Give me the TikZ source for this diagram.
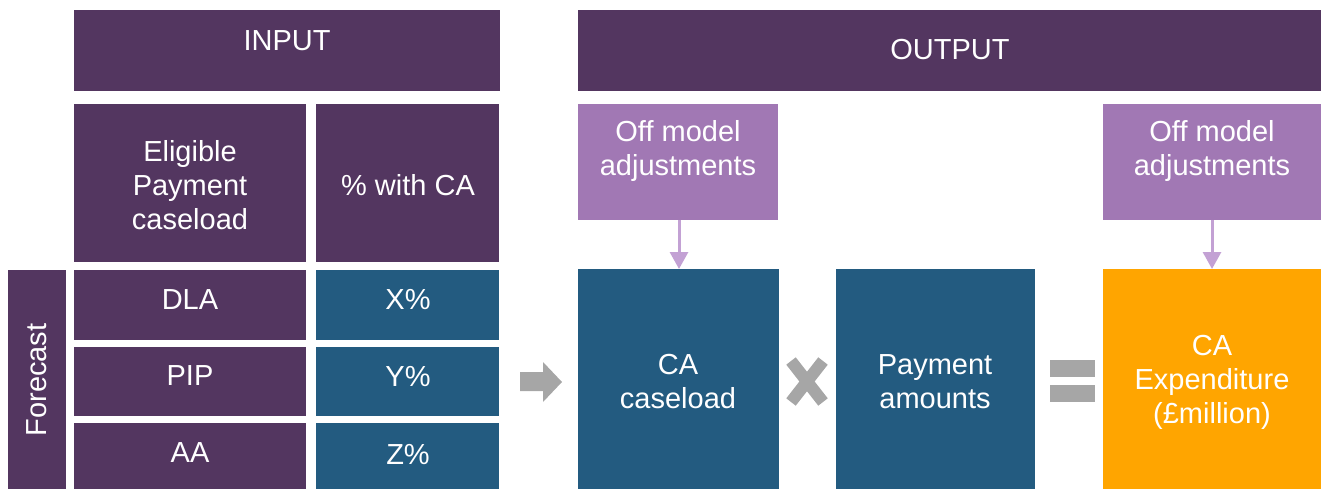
\documentclass[tikz,border=0pt]{standalone}
\usepackage{fontspec}
\setmainfont{Liberation Sans}
\usetikzlibrary{arrows.meta}
\definecolor{dpurple}{HTML}{533660}
\definecolor{dblue}{HTML}{235B80}
\definecolor{lav}{HTML}{A178B4}
\definecolor{lavarrow}{HTML}{C3A1D4}
\definecolor{orng}{HTML}{FFA500}
\definecolor{gry}{HTML}{A6A6A6}
\tikzset{
  box/.style={draw=none, inner sep=0pt, outer sep=0pt},
  txt/.style={text=white, font=\fontsize{29}{34}\selectfont, align=center, inner sep=0pt},
  adjarrow/.style={draw=lavarrow, line width=3pt, -{Triangle[width=18pt,length=17pt]}},
  sym/.style={fill=gry, draw=none}
}
\newcommand{\boxat}[6]{% name, color, x1, y1, x2, y2
  \node[box, fill=#2, minimum width={#5-#3}, minimum height={#6-#4}, anchor=north west] (#1) at (#3,#4) {};}
\begin{document}
\begin{tikzpicture}[x=1pt,y=-1pt]
\useasboundingbox (0,0) rectangle (1321,489);
% header boxes
\boxat{input}{dpurple}{74}{10}{500}{91}
\boxat{output}{dpurple}{578}{10}{1321}{91}
\node[txt] (inputt) at (287,41) {INPUT};
\node[txt] (outputt) at (950,50) {OUTPUT};
% input column headers
\boxat{elig}{dpurple}{74}{104}{306}{262}
\boxat{pct}{dpurple}{316}{104}{499}{262}
\node[txt] (eligt) at (190,185) {Eligible\\Payment\\caseload};
\node[txt] (pctt) at (408,185) {\% with CA};
% forecast
\boxat{fc}{dpurple}{8}{270}{66}{489}
\node[txt, rotate=90] (fct) at (37,380) {Forecast};
% rows
\boxat{dla}{dpurple}{74}{270}{306}{340}
\boxat{pip}{dpurple}{74}{347}{306}{416}
\boxat{aa}{dpurple}{74}{423}{306}{489}
\boxat{xp}{dblue}{316}{270}{499}{340}
\boxat{yp}{dblue}{316}{347}{499}{416}
\boxat{zp}{dblue}{316}{423}{499}{489}
\node[txt] (dlat) at (190,300) {DLA};
\node[txt] (pipt) at (190,376) {PIP};
\node[txt] (aat) at (190,453) {AA};
\node[txt] (xpt) at (408,300) {X\%};
\node[txt] (ypt) at (408,377) {Y\%};
\node[txt] (zpt) at (408,455) {Z\%};
% output
\boxat{off1}{lav}{578}{104}{778}{220}
\boxat{off2}{lav}{1103}{104}{1321}{220}
\node[txt] (off1t) at (678,151) {Off model\\adjustments};
\node[txt] (off2t) at (1212,151) {Off model\\adjustments};
\boxat{cac}{dblue}{578}{269}{779}{489}
\boxat{pay}{dblue}{836}{269}{1035}{489}
\boxat{exp}{orng}{1103}{269}{1321}{489}
\node[txt] (cact) at (678,382) {CA\\caseload};
\node[txt] (payt) at (935,382) {Payment\\amounts};
\node[txt] (expt) at (1212,382) {CA\\Expenditure\\(£million)};
% adjustment arrows
\draw[adjarrow] (off1.south -| 679,0) -- (cac.north -| 679,0);
\draw[adjarrow] (off2.south -| 1212,0) -- (exp.north -| 1212,0);
% grey arrow
\fill[sym] (520,372) -- (543,372) -- (543,362) -- (562,382) -- (543,402) -- (543,391) -- (520,391) -- cycle;
% times
\draw[gry, line width=12pt] (791,361) -- (823,402);
\draw[gry, line width=12pt] (823,361) -- (791,402);
% equals
\fill[sym] (1050,360) rectangle (1095,377);
\fill[sym] (1050,385) rectangle (1095,402);
\end{tikzpicture}
\end{document}
